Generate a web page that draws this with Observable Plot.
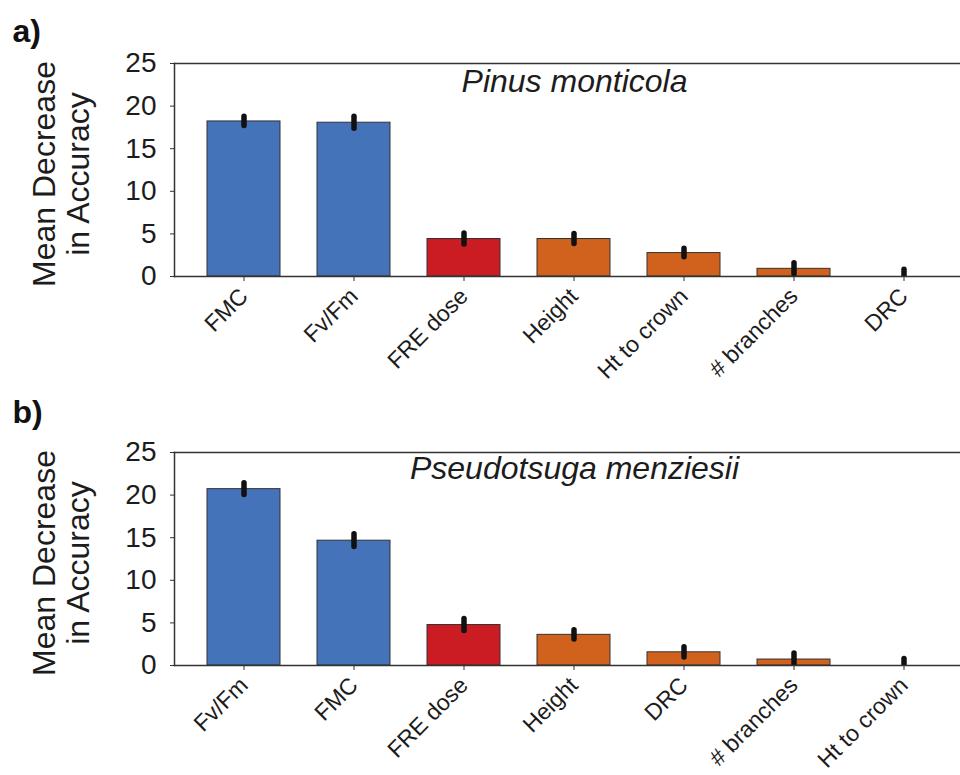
<!DOCTYPE html>
<html>
<head>
<meta charset="utf-8">
<script src="https://cdn.jsdelivr.net/npm/d3@7"></script>
<script src="https://cdn.jsdelivr.net/npm/@observablehq/plot@0.6"></script>
<style>
  html, body { margin: 0; padding: 0; background: #fff; }
  #chart { width: 960px; }
  #chart svg { display: block; }
</style>
</head>
<body>
<div id="chart"></div>
<script>
// ---- Data ----
const yTicks = [0, 5, 10, 15, 20, 25];
const groups = ["physiology", "dose", "morphology"];

const speciesA = "Pinus monticola";
const letterA = "a)";
const catsA  = ["FMC", "Fv/Fm", "FRE dose", "Height", "Ht to crown", "# branches", "DRC"];
const valsA  = [18.2, 18.05, 4.4, 4.4, 2.75, 0.9, 0];
const errA   = [0.55, 0.7, 0.65, 0.6, 0.5, 0.65, 0.8];
const groupA = ["physiology", "physiology", "dose", "morphology", "morphology", "morphology", "morphology"];

const speciesB = "Pseudotsuga menziesii";
const letterB = "b)";
const catsB  = ["Fv/Fm", "FMC", "FRE dose", "Height", "DRC", "# branches", "Ht to crown"];
const valsB  = [20.7, 14.65, 4.75, 3.6, 1.55, 0.7, 0];
const errB   = [0.7, 0.75, 0.7, 0.55, 0.6, 0.7, 0.75];
const groupB = ["physiology", "physiology", "dose", "morphology", "morphology", "morphology", "morphology"];

const yLabel = "Mean Decrease\nin Accuracy";

// ---- Styling ----
const FONT = "'Liberation Sans', Arial, Helvetica, sans-serif";
const INK = "#1c1c1c";
const LINE = "#333333";
const COLORS = ["#4473B9", "#CB1B23", "#D1621D"];

function panel({cats, vals, errs, grp, species, letter, height, marginTop, marginBottom, letterDy, titleDy}) {
  const rows = cats.map((c, i) => ({cat: c, value: vals[i], err: errs[i], group: grp[i]}));
  return Plot.plot({
    width: 960,
    height,
    marginLeft: 174,
    marginRight: 0,
    marginTop,
    marginBottom,
    style: {fontFamily: FONT, color: INK, background: "#fff", overflow: "visible"},
    x: {domain: cats, range: [174, 974], paddingInner: 0.333, paddingOuter: 0.275, label: null},
    y: {domain: [0, 25], label: null},
    color: {domain: groups, range: COLORS},
    marks: [
      Plot.barY(rows, {x: "cat", y: "value", fill: "group", stroke: LINE, strokeWidth: 1}),
      Plot.ruleX(rows, {x: "cat", y1: d => d.value - d.err, y2: d => d.value + d.err,
        stroke: "#111", strokeWidth: 5.5, strokeLinecap: "round", clip: true}),
      Plot.frame({anchor: "left", stroke: LINE, strokeWidth: 1.5}),
      Plot.frame({anchor: "top", stroke: LINE, strokeWidth: 1.5}),
      Plot.frame({anchor: "bottom", stroke: LINE, strokeWidth: 1.5}),
      Plot.axisY({ticks: yTicks, tickSize: 4, tickPadding: 14, fontSize: 28, label: null, stroke: LINE}),
      Plot.axisX({tickSize: 5, tickPadding: 11, tickRotate: -45, fontSize: 23, label: null, stroke: LINE}),
      Plot.text([yLabel], {text: d => d, frameAnchor: "left", rotate: -90, dx: -113, dy: 4,
        fontSize: 32, lineHeight: 1.05, lineAnchor: "middle", textAnchor: "middle", fill: INK}),
      Plot.text([species], {text: d => d, frameAnchor: "top", dx: 7, dy: titleDy, lineAnchor: "top",
        fontSize: 32, fontStyle: "italic", fill: INK}),
      Plot.text([letter], {text: d => d, frameAnchor: "top-left", dx: -162, dy: letterDy, lineAnchor: "top",
        textAnchor: "start", fontSize: 32, fontWeight: "bold", fill: "#111"})
    ]
  });
}

const chart = document.getElementById("chart");
chart.appendChild(panel({cats: catsA, vals: valsA, errs: errA, grp: groupA, species: speciesA, letter: letterA,
  height: 388, marginTop: 63, marginBottom: 112, letterDy: -44, titleDy: 6}));
chart.appendChild(panel({cats: catsB, vals: valsB, errs: errB, grp: groupB, species: speciesB, letter: letterB,
  height: 387, marginTop: 64, marginBottom: 110, letterDy: -52, titleDy: 4}));
</script>
</body>
</html>
